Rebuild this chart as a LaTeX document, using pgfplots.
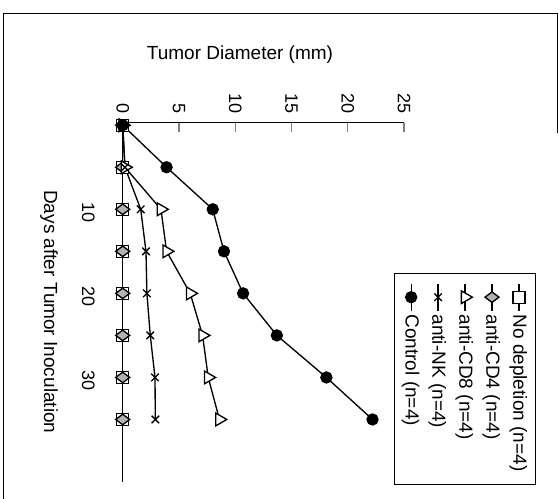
\documentclass[border=0pt]{standalone}
\usepackage{fontspec}
\setmainfont{Liberation Sans}
\usepackage{pgfplots}
\usepackage{pgfplotstable}
\pgfplotsset{compat=1.18}

% tumour diameter (mm) by day, one column per group
\pgfplotstableread{
day nodep cdfour cdeight nk control
0  0 0 0    0    0
5  0 0 0.2  0.2  3.9
10 0 0 3.4  1.6  8.0
15 0 0 3.9  2.07 9.0
20 0 0 6.0  2.15 10.7
25 0 0 7.1  2.45 13.7
30 0 0 7.6  2.87 18.1
35 0 0 8.6  2.9  22.2
}\tumor

\begin{document}
\begin{tikzpicture}
\useasboundingbox (0,0) rectangle (335.4pt,-299.4pt);
\draw[line width=0.6pt] (2pt,-299.4pt) -- (2pt,-8.4pt) -- (334.2pt,-8.4pt) -- (334.2pt,-80pt);
% the whole chart is turned a quarter turn clockwise, as in the scan
\begin{scope}[rotate=-90, transform shape]
\begin{axis}[
  at={(73.62pt,73.62pt)}, anchor=south west,
  scale only axis, width=215.4pt, height=168.8pt,
  xmin=-0.3, xmax=42.4, ymin=0, ymax=25,
  clip=false,
  axis x line*=bottom, axis y line*=left,
  axis line style={-, line width=0.8pt},
  xtick={10,20,30}, ytick={0,5,...,25},
  xtick style={draw=none},
  ytick style={line width=0.8pt},
  tick align=inside, major tick length=5.4pt,
  xticklabel shift=13.2pt,
  xticklabel style={xshift=2.1pt},
  yticklabel shift=1.8pt,
  /pgf/number format/assume math mode=true,
  ticklabel style={font=\fontsize{10.8}{12}\selectfont},
  xlabel={Days after Tumor Inoculation},
  ylabel={Tumor Diameter (mm)},
  label style={font=\fontsize{11.4}{13}\selectfont},
  xlabel style={at={(rel axis cs:0.527,-0.262)}, anchor=center},
  ylabel style={at={(rel axis cs:-0.1885,0.417)}, anchor=center},
  legend cell align=left,
  legend style={at={(rel axis cs:1.010,1.469)}, anchor=north east,
    draw=black, line width=0.7pt, inner xsep=6pt, inner ysep=3pt,
    row sep=2.4pt, font=\fontsize{11.4}{13}\selectfont},
  legend image code/.code={\draw[mark repeat=2,mark phase=2,#1]
    plot coordinates {(0pt,0pt) (8pt,0pt) (16pt,0pt)};},
]
\addplot[black, line width=0.8pt, mark=square*, mark size=3.6pt,
  mark options={fill=white}] table[x=day, y=nodep] {\tumor};
\addplot[black, line width=0.8pt, mark=diamond*, mark size=4.2pt,
  mark options={fill=gray!60}] table[x=day, y=cdfour] {\tumor};
\addplot[black, line width=0.8pt, mark=triangle*, mark size=4.4pt,
  mark options={fill=white}] table[x=day, y=cdeight] {\tumor};
\addplot[black, line width=0.8pt, mark=x, mark size=3.2pt]
  table[x=day, y=nk] {\tumor};
\addplot[black, line width=0.8pt, mark=*, mark size=3.3pt,
  mark options={fill=black}] table[x=day, y=control] {\tumor};
\legend{No depletion (n=4), anti-CD4 (n=4), anti-CD8 (n=4),
  anti-NK (n=4), Control (n=4)}
\end{axis}
\end{scope}
\end{tikzpicture}
\end{document}
